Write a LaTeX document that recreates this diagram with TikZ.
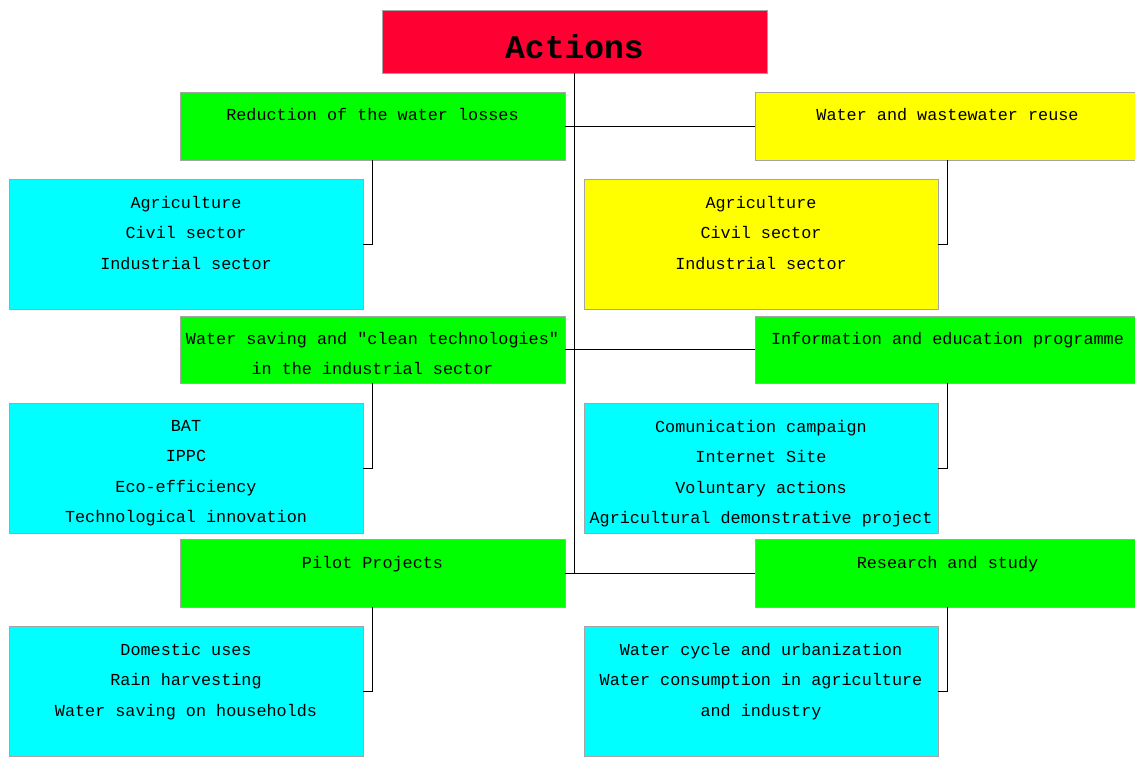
\documentclass[tikz,border=0pt]{standalone}
\usepackage{fontspec}
\setmonofont{Liberation Mono}
\definecolor{cred}{RGB}{255,0,51}
\definecolor{cgreen}{RGB}{0,255,0}
\definecolor{cyellow}{RGB}{255,255,0}
\definecolor{ccyan}{RGB}{0,255,255}
\definecolor{cborder}{RGB}{165,165,165}
\tikzset{
  box/.style={draw=cborder, line width=1pt, anchor=north west, inner sep=0pt, outer sep=0pt},
  head/.style={box, minimum width=385pt, minimum height=68pt},
  sub/.style={box, minimum width=354pt, minimum height=130pt},
  txt/.style={font=\ttfamily\fontsize{16.8}{30.5}\selectfont, align=center, anchor=north, inner sep=0pt, text=black,
    execute at begin node={\rule{0pt}{12pt}}},
  conn/.style={draw=black, line width=1pt}
}
\begin{document}
\begin{tikzpicture}[x=1pt,y=-1pt]
\useasboundingbox (0,0) rectangle (1135,756);
\clip (0,0) rectangle (1135,756);
% boxes
\node[box, fill=cred, minimum width=385pt, minimum height=63pt] (actions) at (382,10) {};
\node[head, fill=cgreen] (reduction) at (180,92) {};
\node[head, fill=cyellow] (reuse) at (755,92) {};
\node[sub, fill=ccyan] (agriL) at (9,179) {};
\node[sub, fill=cyellow] (agriR) at (584,179) {};
\node[head, fill=cgreen, minimum height=67pt] (saving) at (180,316) {};
\node[head, fill=cgreen, minimum height=67pt] (info) at (755,316) {};
\node[sub, fill=ccyan] (bat) at (9,403) {};
\node[sub, fill=ccyan] (comm) at (584,403) {};
\node[head, fill=cgreen] (pilot) at (180,539) {};
\node[head, fill=cgreen] (research) at (755,539) {};
\node[sub, fill=ccyan] (domestic) at (9,626) {};
\node[sub, fill=ccyan] (cycle) at (584,626) {};
% texts (north = first baseline - 12)
\node[font=\ttfamily\bfseries\fontsize{33}{36}\selectfont, anchor=base, inner sep=0pt] (tActions) at (574.5,58) {Actions};
\node[txt] (tReduction) at (372.5,108) {Reduction of the water losses};
\node[txt] (tReuse) at (947.5,108) {Water and wastewater reuse};
\node[txt] (tAgriL) at (186,196) {Agriculture\\Civil sector\\Industrial sector};
\node[txt] (tAgriR) at (761,196) {Agriculture\\Civil sector\\Industrial sector};
\node[txt] (tSaving) at (372.5,332) {Water saving and "clean technologies"\\in the industrial sector};
\node[txt] (tInfo) at (947.5,332) {Information and education programme};
\node[txt] (tBat) at (186,420) {BAT\\IPPC\\Eco-efficiency\\Technological innovation};
\node[txt] (tComm) at (761,420) {Comunication campaign\\Internet Site\\Voluntary actions\\Agricultural demonstrative project};
\node[txt] (tPilot) at (372.5,556) {Pilot Projects};
\node[txt] (tResearch) at (947.5,556) {Research and study};
\node[txt] (tDomestic) at (186,643) {Domestic uses\\Rain harvesting\\Water saving on households};
\node[txt] (tCycle) at (761,643) {Water cycle and urbanization\\Water consumption in agriculture\\and industry};
% connectors
\coordinate (trunkEnd) at (actions.south |- pilot.east);
\draw[conn] (actions.south) -- (trunkEnd);
\draw[conn] (reduction.east) -- (reuse.west);
\draw[conn] (saving.east) -- (info.west);
\draw[conn] (pilot.east) -- (research.west);
\draw[conn] (reduction.south) |- (agriL.east);
\draw[conn] (reuse.south) |- (agriR.east);
\draw[conn] (saving.south) |- (bat.east);
\draw[conn] (info.south) |- (comm.east);
\draw[conn] (pilot.south) |- (domestic.east);
\draw[conn] (research.south) |- (cycle.east);
\end{tikzpicture}
\end{document}
